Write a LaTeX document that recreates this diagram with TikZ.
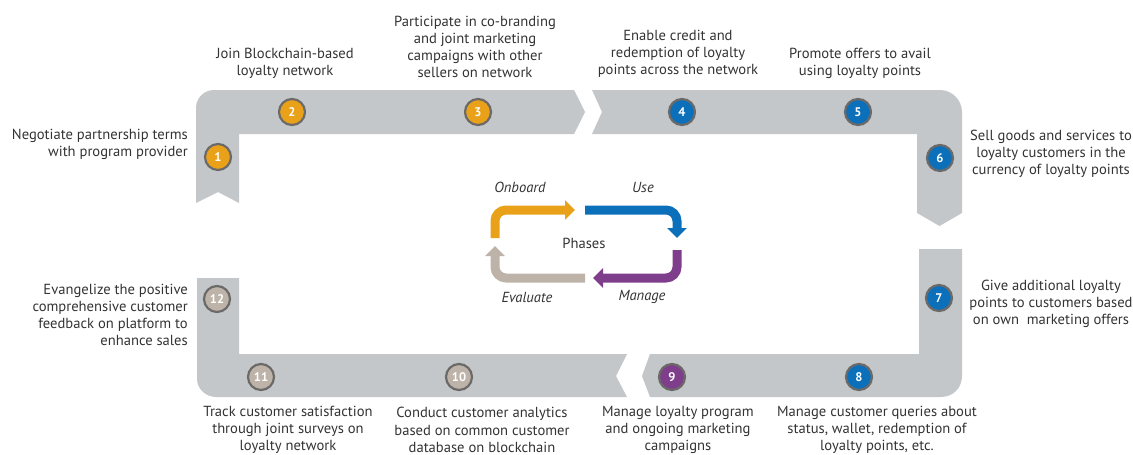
\documentclass[tikz,border=0pt]{standalone}
\usepackage{fontspec}
\setmainfont{PT Sans}
\usetikzlibrary{arrows.meta}
\definecolor{band}{HTML}{C4C7C9}
\definecolor{ring}{HTML}{6B6A68}
\definecolor{txt}{HTML}{333333}
\definecolor{cOnb}{HTML}{EAA11A}
\definecolor{cUse}{HTML}{0B70B9}
\definecolor{cMan}{HTML}{7E3E8B}
\definecolor{cEva}{HTML}{BDB3A9}
\begin{document}
\begin{tikzpicture}[x=1pt,y=-1pt,
  lbl/.style={align=center, inner sep=0pt, text=txt, font=\fontsize{14.6}{17.2}\selectfont},
  lblr/.style={lbl, align=right, anchor=east},
  num/.style={circle, draw=ring, line width=2.2pt, minimum size=26pt, inner sep=0pt,
              text=white, font=\fontsize{12.5}{12.5}\selectfont\bfseries},
  phase/.style={line width=9pt, rounded corners=11pt, -{Triangle[width=19pt,length=10pt]}},
  phlbl/.style={inner sep=0pt, text=txt, font=\fontsize{14.6}{17}\selectfont\itshape}]
\useasboundingbox (0,0) rectangle (1133,455);

% ---- band segments ----
% onboarding segment (top left)
\fill[band] (196,203) -- (196,108) .. controls (196,98) and (204,90) .. (214,90)
  -- (574,90) -- (585,112) -- (574,134) -- (239,134) -- (239,203) -- (218,192) -- cycle;
% usage segment (top right)
\fill[band] (592,90) -- (940,90) .. controls (952,90) and (962,100) .. (962,112)
  -- (962,213) -- (939.5,226) -- (917,213) -- (917,134) -- (592,134) -- (602,112) -- cycle;
% management segment (bottom right)
\fill[band] (919,249) -- (962,249) -- (962,376) .. controls (962,388) and (953,397) .. (941,397)
  -- (650,397) -- (642,376) -- (650,354) -- (919,354) -- cycle;
% evaluation segment (bottom left)
\fill[band] (197,278) -- (239,278) -- (239,354) -- (627,354) -- (616,376) -- (627,397)
  -- (216,397) .. controls (206,397) and (197,389) .. (197,379) -- cycle;

% ---- step markers ----
\node[num, fill=cOnb] (n1)  at (218,157) {1};
\node[num, fill=cOnb] (n2)  at (292,112) {2};
\node[num, fill=cOnb] (n3)  at (478,112) {3};
\node[num, fill=cUse] (n4)  at (682,112) {4};
\node[num, fill=cUse] (n5)  at (858,112) {5};
\node[num, fill=cUse] (n6)  at (940,158) {6};
\node[num, fill=cUse] (n7)  at (939,298) {7};
\node[num, fill=cUse] (n8)  at (859,377) {8};
\node[num, fill=cMan] (n9)  at (672,377) {9};
\node[num, fill=cEva] (n10) at (459,377) {10};
\node[num, fill=cEva] (n11) at (261,377) {11};
\node[num, fill=cEva] (n12) at (217,299) {12};

% ---- step descriptions ----
\node[lblr] (t1) at (188,144.5) {Negotiate partnership terms\\with program provider};
\node[lbl] (t2) at (285,63.5) {Join Blockchain-based\\loyalty network};
\node[lbl] (t3) at (475,47) {Participate in co-branding\\and joint marketing\\campaigns with other\\sellers on network};
\node[lbl] (t4) at (678,53.5) {Enable credit and\\redemption of loyalty\\points across the network};
\node[lbl] (t5) at (860,63.5) {Promote offers to avail\\using loyalty points};
\node[lbl] (t6) at (1051,154) {Sell goods and services to\\loyalty customers in the\\currency of loyalty points};
\node[lbl] (t7) at (1051,304) {Give additional loyalty\\points to customers based\\on own\ \ marketing offers};
\node[lbl] (t8) at (877,430) {Manage customer queries about\\status, wallet, redemption of\\loyalty points, etc.};
\node[lbl] (t9) at (678,430) {Manage loyalty program\\and ongoing marketing\\campaigns};
\node[lbl] (t10) at (482,430) {Conduct customer analytics\\based on common customer\\database on blockchain};
\node[lbl] (t11) at (288,430) {Track customer satisfaction\\through joint surveys on\\loyalty network};
\node[lblr] (t12) at (188,315) {Evangelize the positive\\comprehensive customer\\feedback on platform to\\enhance sales};

% ---- phase cycle ----
\coordinate (oA) at (495,238); \coordinate (oB) at (495,210); \coordinate (oC) at (575,210);
\coordinate (uA) at (585,210); \coordinate (uB) at (677,210); \coordinate (uC) at (677,238);
\coordinate (mA) at (677,250); \coordinate (mB) at (677,278); \coordinate (mC) at (593,278);
\coordinate (eA) at (585,278); \coordinate (eB) at (495,278); \coordinate (eC) at (495,246);
\draw[phase, draw=cOnb] (oA) -- (oB) -- (oC);
\draw[phase, draw=cUse] (uA) -- (uB) -- (uC);
\draw[phase, draw=cMan] (mA) -- (mB) -- (mC);
\draw[phase, draw=cEva] (eA) -- (eB) -- (eC);

\node[phlbl] (lOnb) at (520,187) {Onboard};
\node[phlbl] (lUse) at (643,187) {Use};
\node[lbl]   (lPh)  at (584,243) {Phases};
\node[phlbl] (lEva) at (527,297) {Evaluate};
\node[phlbl] (lMan) at (642,297) {Manage};
\end{tikzpicture}
\end{document}
